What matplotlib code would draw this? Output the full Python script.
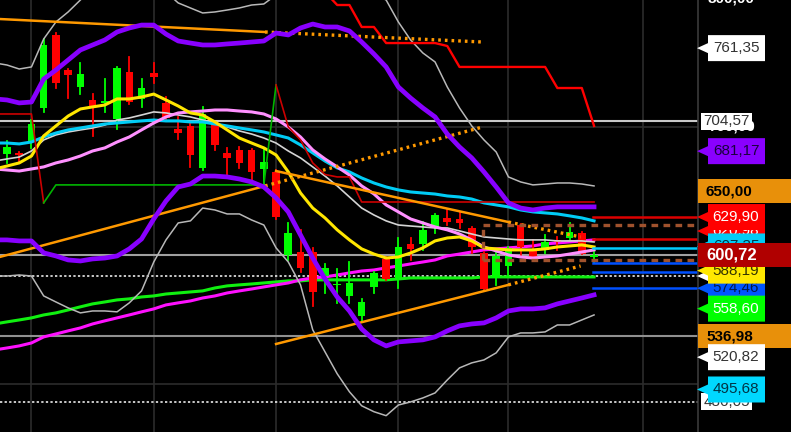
import numpy as np
import matplotlib
matplotlib.use("Agg")
import matplotlib.pyplot as plt
from matplotlib.patches import Polygon, Rectangle

plt.rcParams['font.family'] = ['Liberation Sans', 'DejaVu Sans']

# ---- daily candles ----
opens = [679.0, 679.8, 688.3, 714.8, 771.6, 744.3, 731.1, 721.0, 718.9, 706.2,
         742.8, 721.8, 742.0, 718.7, 698.4, 700.8, 668.1, 703.1, 679.8, 682.1,
         682.1, 667.3, 665.0, 600.4, 602.7, 602.7, 584.0, 576.7, 568.5, 552.9,
         575.5, 597.2, 582.5, 608.9, 608.9, 622.2, 629.2, 628.4, 621.4, 601.9,
         582.5, 591.8, 623.7, 603.5, 604.3, 611.3, 613.6, 617.5, 598.8]
highs = [689.1, 680.5, 705.4, 768.5, 773.1, 744.8, 749.8, 725.6, 737.3, 746.7,
         754.4, 737.3, 749.8, 723.3, 707.8, 702.3, 715.6, 703.9, 683.7, 684.4,
         682.9, 683.7, 666.5, 625.3, 619.9, 605.9, 593.4, 589.5, 594.9, 566.2,
         587.1, 598.8, 613.6, 613.6, 626.0, 632.0, 635.4, 633.9, 622.2, 602.7,
         601.9, 606.6, 624.2, 612.1, 615.9, 614.4, 625.3, 618.0, 602.7]
lows = [672.0, 672.0, 683.7, 711.7, 730.3, 722.5, 725.6, 693.0, 711.7, 698.4,
        717.9, 715.6, 734.2, 705.4, 690.6, 668.9, 666.5, 682.1, 660.3, 668.1,
        655.6, 655.6, 628.4, 596.5, 587.1, 560.7, 570.8, 563.1, 563.1, 548.3,
        570.8, 581.0, 574.7, 596.5, 604.3, 617.5, 623.7, 621.4, 601.9, 573.2,
        577.1, 583.3, 598.8, 596.5, 601.9, 604.3, 612.1, 601.1, 594.1]
closes = [684.4, 678.2, 702.3, 763.8, 734.2, 740.4, 741.2, 715.6, 719.6, 745.9,
          719.4, 730.3, 738.9, 707.0, 695.3, 678.2, 710.1, 686.0, 675.9, 672.0,
          665.0, 672.8, 630.0, 617.5, 590.2, 571.6, 590.2, 577.4, 578.6, 563.8,
          586.4, 581.7, 606.6, 605.1, 619.9, 631.5, 626.0, 625.3, 606.6, 573.9,
          599.6, 605.9, 606.6, 598.8, 610.5, 610.5, 618.3, 601.1, 600.72]

# ---- indicators (first value is the session before the first candle) ----
band_upper = [721.8, 721.0, 718.7, 719.4, 737.3, 744.3, 752.1, 759.9, 763.8, 767.7,
              773.9, 777.0, 779.3, 779.3, 772.3, 766.9, 765.3, 763.8, 763.8, 764.6,
              765.3, 766.1, 766.9, 773.1, 771.6, 777.0, 780.1, 777.8, 777.8, 774.7,
              766.1, 756.8, 746.7, 731.1, 722.5, 714.8, 707.8, 694.5, 684.4, 675.9,
              665.0, 653.3, 640.9, 636.9, 635.4, 636.9, 637.8, 637.8, 637.8, 637.8]
band_lower = [612.1, 612.1, 611.3, 611.3, 602.0, 599.6, 596.5, 595.7, 597.3, 598.0,
              599.6, 605.1, 612.8, 628.4, 642.4, 653.3, 655.6, 661.8, 661.8, 661.1,
              659.5, 657.2, 653.3, 644.8, 633.9, 615.9, 598.0, 581.7, 567.7, 556.8,
              542.8, 534.3, 529.6, 532.7, 533.5, 534.3, 536.6, 541.3, 545.2, 546.7,
              547.5, 551.4, 556.8, 558.4, 558.4, 559.2, 562.3, 564.6, 566.9, 569.3]
outer_upper = [749.8, 748.2, 745.1, 746.7, 768.5, 781.7, 789.5, 798.8, 808.1, 815.9,
               820.6, 822.1, 820.6, 814.4, 805.0, 796.5, 792.6, 788.7, 789.5, 791.0,
               792.6, 794.9, 795.7, 802.7, 806.6, 810.5, 814.4, 815.9, 814.4, 812.0,
               808.1, 803.5, 798.8, 781.7, 767.7, 757.6, 750.6, 731.1, 714.8, 700.8,
               689.9, 680.5, 661.1, 657.2, 654.9, 655.6, 656.4, 656.4, 655.6, 654.1]
outer_lower = [584.0, 584.0, 584.8, 584.0, 568.5, 563.8, 559.2, 555.3, 556.8, 556.8,
               556.1, 563.1, 572.4, 594.9, 612.1, 625.3, 626.9, 636.9, 635.4, 632.3,
               632.3, 627.6, 623.7, 605.9, 594.9, 577.1, 542.1, 525.0, 507.9, 493.9,
               483.0, 478.4, 475.3, 483.6, 486.0, 489.1, 493.0, 503.1, 512.5, 516.4,
               518.7, 524.2, 536.6, 539.7, 539.7, 540.5, 545.9, 545.9, 549.8, 553.7]
mid_line = [673.5, 675.1, 676.6, 681.3, 689.9, 693.8, 696.1, 697.7, 699.2, 701.5,
            705.4, 707.0, 709.3, 711.7, 710.9, 709.3, 707.8, 705.4, 703.1, 700.0,
            696.9, 694.5, 691.4, 687.5, 681.3, 675.9, 668.9, 661.8, 654.1, 645.5,
            636.9, 631.5, 626.9, 623.7, 622.9, 622.2, 621.4, 621.4, 619.1, 616.7,
            614.4, 613.6, 612.8, 612.1, 612.1, 612.1, 611.3, 611.3, 611.3, 610.5]
cyan_ma = [687.5, 687.5, 686.8, 688.3, 692.2, 695.3, 697.7, 699.2, 700.8, 702.3,
           703.1, 703.9, 704.7, 705.4, 704.7, 704.7, 703.9, 703.9, 702.3, 700.8,
           699.2, 697.7, 696.1, 693.8, 691.4, 686.0, 679.8, 673.5, 668.1, 665.0,
           660.3, 656.4, 653.3, 651.0, 649.4, 648.6, 647.8, 646.3, 645.5, 643.9,
           640.9, 639.3, 637.8, 635.4, 633.9, 633.1, 632.3, 630.8, 629.2, 626.9]
pink_ma = [667.3, 666.5, 665.7, 667.3, 668.9, 672.0, 674.3, 677.4, 681.3, 683.7,
           688.3, 692.2, 697.7, 703.1, 707.8, 710.9, 711.7, 712.4, 713.2, 713.2,
           712.4, 711.7, 710.1, 706.2, 700.0, 692.2, 682.1, 675.1, 668.9, 662.6,
           654.1, 647.9, 639.3, 633.9, 628.4, 625.3, 622.2, 619.9, 616.7, 612.1,
           606.6, 603.5, 600.4, 598.8, 598.0, 598.8, 599.6, 601.1, 602.7, 604.3]
yellow_ma = [667.3, 669.6, 672.0, 677.4, 693.0, 700.8, 708.5, 714.0, 715.6, 717.1,
             721.8, 721.8, 723.3, 725.6, 721.0, 716.3, 710.9, 709.3, 703.9, 697.7,
             691.4, 687.5, 683.7, 678.2, 665.0, 648.6, 636.9, 629.2, 619.9, 612.1,
             605.1, 601.1, 598.0, 598.8, 601.9, 605.9, 611.3, 613.6, 614.4, 611.3,
             605.9, 605.1, 604.3, 604.3, 604.3, 605.1, 606.6, 607.4, 608.2, 606.6]
green_ma = [546.7, 548.3, 549.8, 551.4, 553.7, 555.3, 557.6, 560.0, 562.3, 563.8,
            565.4, 566.2, 567.7, 568.5, 570.0, 570.8, 571.6, 572.4, 574.7, 576.3,
            577.1, 577.8, 578.6, 579.4, 580.2, 580.2, 581.0, 581.0, 581.0, 581.0,
            581.0, 581.0, 581.0, 581.7, 582.5, 582.5, 582.5, 582.5, 582.5, 582.5,
            583.3, 583.3, 583.3, 583.3, 583.3, 583.3, 583.3, 583.3, 583.3, 583.3]
magenta_ma = [526.5, 528.0, 529.6, 531.9, 536.6, 538.9, 541.3, 543.6, 546.7, 549.1,
              551.4, 553.7, 556.1, 558.4, 561.5, 563.1, 564.6, 566.9, 568.5, 570.8,
              572.4, 573.9, 575.5, 577.1, 578.6, 581.0, 582.5, 583.3, 584.8, 586.4,
              587.9, 588.7, 590.3, 591.8, 593.4, 594.9, 596.5, 599.6, 601.1, 602.7,
              604.3, 605.1, 605.9, 606.6, 607.4, 609.0, 609.7, 610.5, 611.3, 612.1]
stop_line = [710.1, 710.1, 710.1, 710.1, 640.9, 654.9, 654.9, 654.9, 654.9, 654.9,
             654.9, 654.9, 654.9, 654.9, 654.9, 654.9, 654.9, 654.9, 654.9, 654.9,
             654.9, 654.9, 654.9, 732.7, 700.0, 689.9, 672.0, 663.0, 661.1, 661.1,
             641.6, 641.6, 641.6, 641.6, 641.6, 641.6, 641.6, 641.6, 641.6, 641.6,
             641.6, 641.6, 641.6, 641.6, 641.6, 641.6, 641.6, 641.6, 641.6, 641.6]
# red resistance steps, sessions 25..48
red_steps = [822.1, 805.0, 794.9, 794.9, 777.8, 777.8, 765.3, 765.3, 765.3, 765.3,
             765.3, 763.0, 746.7, 746.7, 746.7, 746.7, 746.7, 746.7, 746.7, 746.7,
             730.3, 730.3, 730.3, 700.8]

# ---- trend channels: (session, price) at start / end of solid / end of dotted ----
chanA_x = [-0.6, 21.1, 38.9]
chanA_top = [784.0, 773.9, 766.1]
chanA_bot = [598.8, 654.1, 700.0]
chanB_x = [22.0, 41.0, 46.9]
chanB_top = [665.7, 626.0, 614.4]
chanB_bot = [531.1, 577.1, 591.8]
box_x0 = 38.9
box_top, box_bot = 623.7, 596.5

# ---- horizontal levels ----
last_price = 600.72
full_levels = [(704.57, '#c8c8c8'), (600.72, '#a0a0a0'), (536.98, '#909090')]
dotted_levels = [584.0, 486.05]
grid_prices = [700, 600, 500]
grid_sessions = [2, 12, 22, 32, 41, 52]
proj_levels = [(629.90, '#dd0000'), (612.8, '#dd0000'), (605.9, '#00ccff'),
               (594.1, '#0050ff'), (587.1, '#0050ff'), (574.46, '#0050ff')]

YMIN, YMAX = 462.6, 798.8
W, H = 791, 432
PX = (YMAX - YMIN) / H

fig = plt.figure(figsize=(W / 100, H / 100), dpi=100, facecolor='black')
ax = fig.add_axes([0, 0, 698 / W, 1])
ax.set_facecolor('black')
n = len(opens)
x = np.arange(n)
xi = np.arange(-1, n)
ax.set_xlim(-0.572, 56.5)
ax.set_ylim(YMIN, YMAX)
for s in ax.spines.values():
    s.set_visible(False)
ax.set_xticks([])
ax.set_yticks([])

for g in grid_sessions:
    ax.axvline(g, color='#2c2c2c', lw=1.2, zorder=0)
for g in grid_prices:
    ax.axhline(g, color='#2c2c2c', lw=1.2, zorder=0)

for val, col in full_levels:
    ax.axhline(val, color=col, lw=1.5, zorder=1)
for val in dotted_levels:
    ax.axhline(val, color='white', lw=1.1, ls=(0, (1.5, 1.5)), zorder=1)

# long averages behind the candles
ax.plot(xi, green_ma, color='#10f010', lw=2.2, zorder=2)
ax.plot(xi, magenta_ma, color='#ff10ff', lw=2.2, zorder=2)

# candles
for i in range(n):
    o, h, l, c = opens[i], highs[i], lows[i], closes[i]
    col = '#00ff00' if c >= o else '#ff0000'
    ax.plot([i, i], [l, h], color=col, lw=1.3, zorder=3)
    body = max(abs(c - o), 1.3)
    ax.bar(i, body, bottom=min(o, c), width=0.62, color=col, zorder=3)

# bands and averages
ax.plot(xi, outer_upper, color='#b8b8b8', lw=1.1, zorder=4)
ax.plot(xi, outer_lower, color='#b8b8b8', lw=1.1, zorder=4)
ax.plot(xi, mid_line, color='#d4d4d4', lw=1.2, zorder=4)
ax.plot(xi, cyan_ma, color='#00ccf5', lw=2.2, zorder=4)
ax.plot(xi, pink_ma, color='#ff90ff', lw=2.2, zorder=4)
ax.plot(xi, yellow_ma, color='#ffe600', lw=2.2, zorder=4)
ax.plot(xi, band_upper, color='#8800ff', lw=3.4, zorder=5)
ax.plot(xi, band_lower, color='#8800ff', lw=3.4, zorder=5)

# stop line: red while above price, green while below
ax.plot(xi[:5], stop_line[:5], color='#cc0000', lw=1.2, zorder=4)
ax.plot(xi[4:24], stop_line[4:24], color='#00b400', lw=1.2, zorder=4)
ax.plot(xi[23:], stop_line[23:], color='#cc0000', lw=1.2, zorder=4)
ax.plot(np.arange(25, n), red_steps, color='#ff0000', lw=1.7, zorder=4)

# trend channels
for top in (chanA_top, chanA_bot):
    ax.plot(chanA_x[:2], top[:2], color='#ff9900', lw=1.8, zorder=4)
    ax.plot(chanA_x[1:], top[1:], color='#ff9900', lw=2.4, ls=(0, (0.8, 1.2)), zorder=4)
for top in (chanB_top, chanB_bot):
    ax.plot(chanB_x[:2], top[:2], color='#ff9900', lw=1.8, zorder=4)
    ax.plot(chanB_x[1:], top[1:], color='#ff9900', lw=2.4, ls=(0, (0.8, 1.2)), zorder=4)

bstyle = dict(color='#a0522d', lw=2.4, ls=(0, (2, 1.6)), zorder=4)
ax.plot([box_x0, 56.5], [box_top, box_top], **bstyle)
ax.plot([box_x0, 56.5], [box_bot, box_bot], **bstyle)
ax.plot([box_x0, box_x0], [box_bot, box_top], **bstyle)

for val, col in proj_levels:
    ax.plot([47.9, 56.5], [val, val], color=col, lw=1.8, zorder=4)

# ---- price scale with value tags ----
lab = fig.add_axes([0, 0, 1, 1])
lab.set_xlim(0, W)
lab.set_ylim(YMIN, YMAX)
lab.axis('off')
lab.patch.set_alpha(0)
lab.plot([698, 698], [YMIN, YMAX], color='#3a3a3a', lw=1.2)

layer = [1]   # each tag is stacked above the previous one


def next_z():
    layer[0] += 1
    return layer[0]


def arrow_tag(val, text, face, txt):
    z = next_z()
    h = 13 * PX
    pts = [(708, val + h), (765, val + h), (765, val - h), (708, val - h),
           (708, val - 5 * PX), (697, val), (708, val + 5 * PX)]
    lab.add_patch(Polygon(pts, closed=True, facecolor=face, edgecolor='none', zorder=z))
    lab.text(736, val, text, color=txt, fontsize=11, ha='center', va='center', zorder=z + 0.5)


def wide_tag(val, text, face, txt, size=11):
    z = next_z()
    h = 12 * PX
    lab.add_patch(Rectangle((698, val - h), 93, 2 * h, facecolor=face, edgecolor='none', zorder=z))
    lab.text(706, val, text, color=txt, fontsize=size, fontweight='bold',
             ha='left', va='center', zorder=z + 0.5)


def small_tag(val, text):
    z = next_z()
    h = 8.5 * PX
    lab.add_patch(Rectangle((701, val - h), 51, 2 * h, facecolor='white', edgecolor='none', zorder=z))
    lab.text(726.5, val, text, color='#333333', fontsize=11, ha='center', va='center', zorder=z + 0.5)


def axis_text(val, text):
    z = next_z()
    lab.text(708, val, text, color='white', fontsize=11, fontweight='bold',
             ha='left', va='center', zorder=z + 0.5)


axis_text(800, '800,00')
arrow_tag(761.35, '761,35', 'white', '#333333')
axis_text(700, '700,00')
small_tag(704.57, '704,57')
arrow_tag(681.17, '681,17', '#8a00ff', '#1a0040')
wide_tag(650.00, '650,00', '#e8900a', 'black')
arrow_tag(619.0, '620,98', '#ff0000', 'white')
arrow_tag(629.90, '629,90', '#ff0000', 'white')
arrow_tag(607.0, '607,35', '#00ccf5', '#003344')
arrow_tag(584.0, '584,00', 'white', '#333333')
arrow_tag(574.46, '574,46', '#0055ff', '#001a4d')
arrow_tag(588.19, '588,19', '#ffe800', '#333300')
wide_tag(last_price, '600,72', '#b00000', 'white', size=12)
arrow_tag(558.60, '558,60', '#00ff00', 'white')
wide_tag(536.98, '536,98', '#e8900a', 'black')
arrow_tag(520.82, '520,82', 'white', '#333333')
small_tag(486.05, '486,05')
axis_text(500, '500,00')
arrow_tag(495.68, '495,68', '#00d8ff', '#003344')

fig.savefig('out.png', dpi=100, facecolor='black')
